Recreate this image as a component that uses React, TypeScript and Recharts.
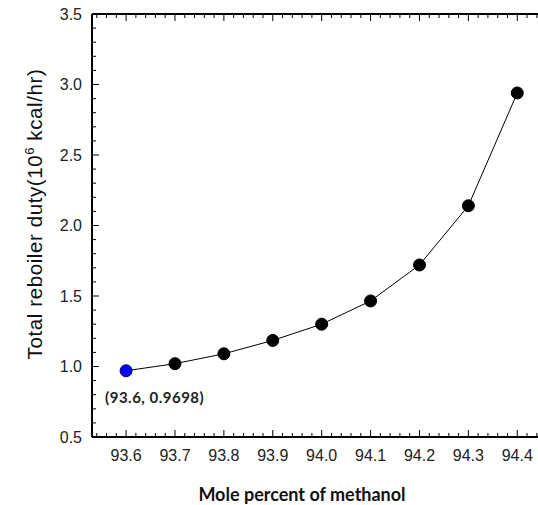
import { LineChart, Line, XAxis, YAxis } from "recharts";

const molePercent = [93.6, 93.7, 93.8, 93.9, 94.0, 94.1, 94.2, 94.3, 94.4];
const reboilerDuty = [0.9698, 1.02, 1.09, 1.185, 1.3, 1.465, 1.72, 2.14, 2.94];

const xDomain = [93.5303, 94.4424];
const yDomain = [0.5, 3.5];

// minor ticks every 0.02 on x, 0.1 on y
const xTicks: number[] = [];
for (let i = 9354; i <= 9444; i += 2) xTicks.push(i / 100);
const yTicks: number[] = [];
for (let i = 5; i <= 35; i++) yTicks.push(i / 10);

const data = molePercent.map((x, i) => ({ x, duty: reboilerDuty[i] }));

const tickFont = "'Liberation Sans', Arial, sans-serif";
const titleFont = "Lato, 'Open Sans', sans-serif";

function BottomTick(props: any) {
  const { x, y, payload } = props;
  const v = payload.value;
  const major = Math.round(v * 100) % 10 === 0;
  return (
    <g>
      <line x1={x} x2={x} y1={y} y2={y - (major ? 7 : 4)} stroke="#000" strokeWidth={1} />
      {major && (
        <text x={x} y={y + 24} textAnchor="middle" fontSize={16} fontFamily={tickFont} fill="#222">
          {v.toFixed(1)}
        </text>
      )}
    </g>
  );
}

function TopTick(props: any) {
  const { x, y, payload } = props;
  const major = Math.round(payload.value * 100) % 10 === 0;
  return <line x1={x} x2={x} y1={y} y2={y + (major ? 7 : 4)} stroke="#000" strokeWidth={1} />;
}

function LeftTick(props: any) {
  const { x, y, payload } = props;
  const v = payload.value;
  const major = Math.round(v * 10) % 5 === 0;
  return (
    <g>
      <line x1={x} x2={x + (major ? 7 : 4)} y1={y} y2={y} stroke="#000" strokeWidth={1} />
      {major && (
        <text x={x - 10} y={y} dy="0.36em" textAnchor="end" fontSize={16} fontFamily={tickFont} fill="#222">
          {v.toFixed(1)}
        </text>
      )}
    </g>
  );
}

function PointDot(props: any) {
  const { cx, cy, index, payload } = props;
  if (index === 0) {
    return (
      <g key={`dot-${index}`}>
        <circle cx={cx} cy={cy} r={6} fill="#0000ff" stroke="#000066" strokeWidth={1} />
        <text
          x={cx - 21}
          y={cy + 32}
          fontSize={15}
          fontWeight={700}
          letterSpacing={0.5}
          fontFamily={titleFont}
          fill="#222"
        >
          {`(${payload.x.toFixed(1)}, ${payload.duty})`}
        </text>
      </g>
    );
  }
  return <circle key={`dot-${index}`} cx={cx} cy={cy} r={6} fill="#000" stroke="#000" strokeWidth={1} />;
}

function XTitle(props: any) {
  const vb = props.viewBox;
  return (
    <text x={vb.x + 210} y={501} textAnchor="middle" fontSize={18} fontWeight={700} fontFamily={titleFont} fill="#111">
      Mole percent of methanol
    </text>
  );
}

function YTitle() {
  const cx = 42;
  const cy = 214;
  return (
    <text
      x={cx}
      y={cy}
      transform={`rotate(-90, ${cx}, ${cy})`}
      textAnchor="middle"
      fontSize={20.5}
      letterSpacing={0.6}
      fontFamily={tickFont}
      fill="#111"
    >
      Total reboiler duty(10
      <tspan dy={-8} fontSize={13}>6</tspan>
      <tspan dy={8}> kcal/hr)</tspan>
    </text>
  );
}

export default function App() {
  return (
    <div style={{ position: "absolute", left: 0, top: 0, background: "#fff" }}>
      <LineChart width={538} height={505} data={data} margin={{ top: 13, right: 0, bottom: 0, left: 0 }}>
        <XAxis
          dataKey="x"
          type="number"
          domain={xDomain}
          ticks={xTicks}
          interval={0}
          allowDataOverflow
          height={68}
          tickSize={0}
          tickMargin={0}
          tickLine={false}
          tick={<BottomTick />}
          axisLine={{ stroke: "#000", strokeWidth: 2 }}
          label={<XTitle />}
        />
        <XAxis
          xAxisId="top"
          orientation="top"
          dataKey="x"
          type="number"
          domain={xDomain}
          ticks={xTicks}
          interval={0}
          allowDataOverflow
          height={1}
          tickSize={0}
          tickMargin={0}
          tickLine={false}
          tick={<TopTick />}
          axisLine={{ stroke: "#000", strokeWidth: 2 }}
        />
        <YAxis
          type="number"
          domain={yDomain}
          ticks={yTicks}
          interval={0}
          allowDataOverflow
          width={92}
          tickSize={0}
          tickMargin={0}
          tickLine={false}
          tick={<LeftTick />}
          axisLine={{ stroke: "#000", strokeWidth: 2 }}
          label={<YTitle />}
        />
        <Line
          dataKey="duty"
          stroke="#000"
          strokeWidth={1}
          dot={PointDot}
          activeDot={false}
          isAnimationActive={false}
        />
      </LineChart>
    </div>
  );
}
